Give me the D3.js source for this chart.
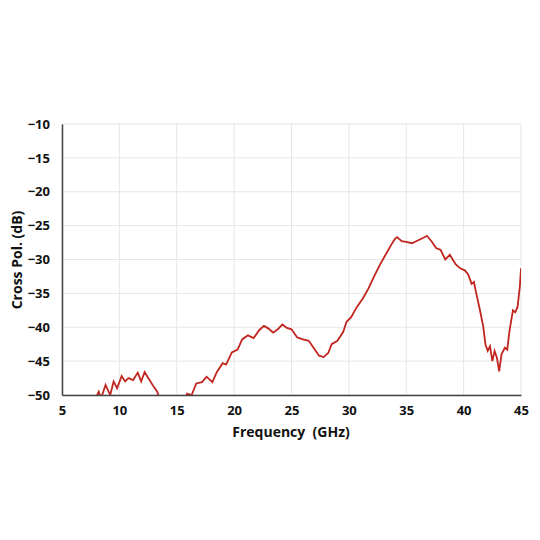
<!DOCTYPE html>
<html><head><meta charset="utf-8">
<script src="https://cdn.jsdelivr.net/npm/d3@7"></script>
<style>body{margin:0;background:#fff}text{font-family:"Open Sans",Lato,sans-serif;font-weight:bold}</style>
</head><body><svg id="c" width="540" height="540"></svg>
<script>
var freq = [7.8,8.2,8.4,8.8,9.2,9.5,9.8,10.2,10.5,10.8,11.2,11.6,11.9,12.2,12.6,13.0,13.3,13.5,14.5,15.5,15.9,16.3,16.7,17.2,17.6,18.1,18.5,19.0,19.3,19.8,20.3,20.7,21.2,21.7,22.2,22.6,23.0,23.4,23.8,24.2,24.6,25.0,25.5,26.0,26.5,27.0,27.4,27.8,28.2,28.5,29.0,29.5,29.8,30.2,30.7,31.2,31.7,32.2,32.7,33.2,33.7,34.0,34.2,34.6,35.0,35.5,36.0,36.5,36.8,37.2,37.6,38.0,38.4,38.8,39.3,39.7,40.1,40.4,40.7,40.9,41.1,41.4,41.7,41.9,42.1,42.3,42.5,42.7,42.9,43.1,43.3,43.6,43.8,44.0,44.3,44.5,44.7,44.9,45.0];
var xpol = [-51,-49.5,-50.5,-48.5,-50,-48,-49,-47.2,-48,-47.5,-47.8,-46.7,-48,-46.6,-47.7,-48.8,-49.5,-50.6,-53,-52,-49.8,-50,-48.3,-48.1,-47.3,-48.1,-46.6,-45.3,-45.5,-43.7,-43.3,-41.8,-41.2,-41.6,-40.4,-39.8,-40.2,-40.8,-40.3,-39.6,-40.1,-40.3,-41.5,-41.8,-42.0,-43.2,-44.2,-44.4,-43.8,-42.5,-42.0,-40.7,-39.2,-38.5,-37.0,-35.8,-34.3,-32.5,-30.8,-29.3,-27.8,-27.0,-26.7,-27.3,-27.4,-27.6,-27.2,-26.8,-26.5,-27.3,-28.3,-28.6,-30.0,-29.3,-30.7,-31.3,-31.6,-32.2,-33.6,-33.3,-35.0,-37.3,-39.8,-42.5,-43.5,-42.8,-45.0,-43.5,-44.5,-46.5,-44.0,-43.0,-43.3,-40.5,-37.5,-37.8,-37.0,-34.0,-31.3];
var xTicks = [5,10,15,20,25,30,35,40,45];
var yTicks = [-10,-15,-20,-25,-30,-35,-40,-45,-50];

var svg = d3.select('#c');
var x = d3.scaleLinear().domain([5,45]).range([62,521]);
var y = d3.scaleLinear().domain([-50,-10]).range([395,124]);

svg.append('g').selectAll('line').data(xTicks).enter().append('line')
  .attr('x1', d => x(d)).attr('x2', d => x(d)).attr('y1', 124).attr('y2', 395)
  .attr('stroke', '#e6e6e6');
svg.append('g').selectAll('line').data(yTicks).enter().append('line')
  .attr('x1', 62).attr('x2', 521).attr('y1', d => y(d)).attr('y2', d => y(d))
  .attr('stroke', '#e6e6e6');

svg.append('clipPath').attr('id', 'clip').append('rect')
  .attr('x', 62).attr('y', 124).attr('width', 459).attr('height', 271);
svg.append('path').datum(d3.zip(freq, xpol))
  .attr('clip-path', 'url(#clip)')
  .attr('fill', 'none').attr('stroke', '#c0261f').attr('stroke-width', 1.8)
  .attr('d', d3.line().x(d => x(d[0])).y(d => y(d[1])));

var ax = svg.append('g').attr('transform', 'translate(0,395)')
  .call(d3.axisBottom(x).tickValues(xTicks).tickSize(0).tickPadding(11));
var ay = svg.append('g').attr('transform', 'translate(62,0)')
  .call(d3.axisLeft(y).tickValues(yTicks).tickSize(0).tickPadding(12));
[ax, ay].forEach(a => {
  a.select('.domain').attr('stroke', '#444').attr('stroke-width', 1.5);
  a.selectAll('text').attr('font-size', 13).attr('fill', '#111');
});

svg.append('text').attr('x', 291).attr('y', 437).attr('text-anchor', 'middle')
  .attr('font-size', 14).attr('fill', '#111').attr('xml:space', 'preserve').text('Frequency  (GHz)');
svg.append('text').attr('transform', 'translate(22,260)rotate(-90)').attr('text-anchor', 'middle')
  .attr('font-size', 14).attr('fill', '#111').text('Cross Pol. (dB)');
</script></body></html>
